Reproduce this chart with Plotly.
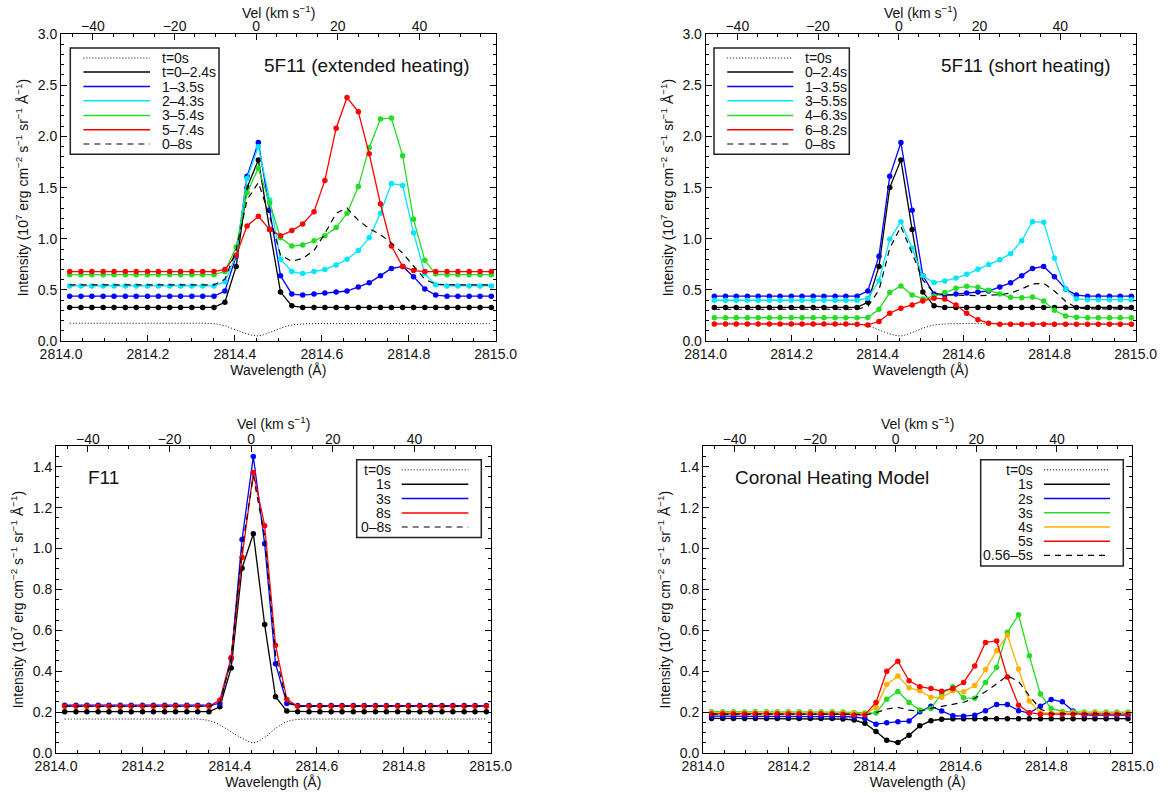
import plotly.graph_objects as go

FONT = "Liberation Sans, Arial, Helvetica, sans-serif"

# ---------------- data ----------------
WAVELENGTH = [2814.020, 2814.046, 2814.071, 2814.097, 2814.122, 2814.148, 2814.173, 2814.199,
              2814.224, 2814.250, 2814.275, 2814.301, 2814.326, 2814.352, 2814.377, 2814.403,
              2814.428, 2814.454, 2814.480, 2814.505, 2814.531, 2814.556, 2814.582, 2814.607,
              2814.633, 2814.658, 2814.684, 2814.709, 2814.735, 2814.760, 2814.786, 2814.811,
              2814.837, 2814.862, 2814.888, 2814.913, 2814.939, 2814.964, 2814.990]
REST_WAVELENGTH = 2814.449
C_KMS = 299792.458
WL_RANGE = [2814.0, 2815.0]

# 5F11 (both heating scenarios)
T0_5F11 = [0.175, 0.175, 0.175, 0.175, 0.175, 0.175, 0.175, 0.175, 0.175, 0.175, 0.175, 0.175, 0.175,
           0.170, 0.150, 0.110, 0.072, 0.052, 0.085, 0.127, 0.158, 0.168,
           0.172, 0.172, 0.172, 0.172, 0.172, 0.172, 0.172, 0.172, 0.172, 0.172, 0.172, 0.172, 0.172,
           0.172, 0.172, 0.172, 0.172]
F5_0_24 = [0.33, 0.33, 0.33, 0.33, 0.33, 0.33, 0.33, 0.33, 0.33, 0.33, 0.33, 0.33, 0.33, 0.33,
           0.38, 0.73, 1.50, 1.77, 1.09, 0.48, 0.345,
           0.33, 0.33, 0.33, 0.33, 0.33, 0.33, 0.33, 0.33, 0.33, 0.33, 0.33, 0.33, 0.33, 0.33, 0.33,
           0.33, 0.33, 0.33]
F5_1_35 = [0.44, 0.44, 0.44, 0.44, 0.44, 0.44, 0.44, 0.44, 0.44, 0.44, 0.44, 0.44, 0.44, 0.44,
           0.49, 0.83, 1.61, 1.94, 1.28, 0.64, 0.46, 0.45, 0.46, 0.47, 0.48, 0.49, 0.53, 0.57, 0.64,
           0.71, 0.73, 0.63, 0.51, 0.45,
           0.44, 0.44, 0.44, 0.44, 0.44]
EXT_2_43 = [0.54, 0.54, 0.54, 0.54, 0.54, 0.54, 0.54, 0.54, 0.54, 0.54, 0.54, 0.54, 0.54, 0.54,
            0.58, 0.84, 1.59, 1.90, 1.38, 0.80, 0.68, 0.66, 0.68, 0.70, 0.745, 0.80, 0.885, 1.01, 1.25,
            1.54, 1.52, 1.06, 0.66, 0.55,
            0.54, 0.54, 0.54, 0.54, 0.54]
EXT_3_54 = [0.65, 0.65, 0.65, 0.65, 0.65, 0.65, 0.65, 0.65, 0.65, 0.65, 0.65, 0.65, 0.65, 0.65,
            0.68, 0.92, 1.45, 1.69, 1.35, 1.01, 0.93, 0.94, 0.98, 1.03, 1.11, 1.25, 1.51, 1.89, 2.17,
            2.18, 1.81, 1.19, 0.79, 0.655,
            0.65, 0.65, 0.65, 0.65, 0.65]
EXT_5_74 = [0.68, 0.68, 0.68, 0.68, 0.68, 0.68, 0.68, 0.68, 0.68, 0.68, 0.68, 0.68, 0.68, 0.68,
            0.70, 0.84, 1.125, 1.22, 1.09, 1.03, 1.08, 1.145, 1.265, 1.57, 2.08, 2.38, 2.24, 1.83, 1.34,
            0.93, 0.73, 0.69, 0.68, 0.68,
            0.68, 0.68, 0.68, 0.68, 0.68]
EXT_0_8 = [0.55, 0.55, 0.55, 0.55, 0.55, 0.55, 0.55, 0.55, 0.55, 0.55, 0.55, 0.55, 0.55, 0.55,
           0.605, 0.89, 1.38, 1.55, 1.22, 0.84, 0.78, 0.81, 0.885, 1.05, 1.25, 1.30, 1.18, 1.10, 1.04,
           0.96, 0.86, 0.73, 0.605, 0.556,
           0.55, 0.55, 0.55, 0.55, 0.55]
SHORT_3_55 = [0.40, 0.40, 0.40, 0.40, 0.40, 0.40, 0.40, 0.40, 0.40, 0.40, 0.40, 0.40, 0.40, 0.40,
              0.42, 0.59, 0.995, 1.167, 0.907, 0.637, 0.572, 0.588, 0.617, 0.653, 0.702, 0.748, 0.796,
              0.855, 0.982, 1.167, 1.161, 0.813, 0.51, 0.413,
              0.405, 0.405, 0.405, 0.405, 0.405]
SHORT_4_63 = [0.228, 0.228, 0.228, 0.228, 0.228, 0.228, 0.228, 0.228, 0.228, 0.228, 0.228, 0.228,
              0.228, 0.228,
              0.231, 0.312, 0.475, 0.54, 0.452, 0.413, 0.44, 0.475, 0.516, 0.536, 0.526, 0.497, 0.461,
              0.429, 0.425, 0.432, 0.393, 0.302, 0.245, 0.234,
              0.228, 0.228, 0.228, 0.228, 0.228]
SHORT_6_82 = [0.169, 0.169, 0.169, 0.169, 0.169, 0.169, 0.169, 0.169, 0.169, 0.169, 0.169, 0.169, 0.169,
              0.165, 0.159, 0.192, 0.273, 0.322, 0.354, 0.393, 0.42, 0.413, 0.354, 0.273, 0.21, 0.176,
              0.166, 0.166, 0.166, 0.166, 0.166, 0.166, 0.166, 0.166, 0.166, 0.166, 0.166, 0.166, 0.166]
SHORT_0_8 = [0.312, 0.312, 0.312, 0.312, 0.312, 0.312, 0.312, 0.312, 0.312, 0.312, 0.312, 0.312,
             0.312, 0.312,
             0.338, 0.50, 0.907, 1.12, 0.86, 0.598, 0.47, 0.452, 0.449, 0.445, 0.445, 0.448, 0.455,
             0.47, 0.51, 0.56, 0.565, 0.49, 0.39, 0.325,
             0.315, 0.315, 0.315, 0.315, 0.315]

# F11
F11_T0 = [0.166, 0.166, 0.166, 0.166, 0.166, 0.166, 0.166, 0.166, 0.166, 0.166, 0.166, 0.166, 0.166,
          0.158, 0.137, 0.104, 0.072, 0.050, 0.076, 0.120, 0.153, 0.164,
          0.166, 0.166, 0.166, 0.166, 0.166, 0.166, 0.166, 0.166, 0.166, 0.166, 0.166, 0.166, 0.166,
          0.166, 0.166, 0.166, 0.166]
F11_1S = [0.202, 0.202, 0.202, 0.202, 0.202, 0.202, 0.202, 0.202, 0.202, 0.202, 0.202, 0.202, 0.202,
          0.202,
          0.226, 0.416, 0.904, 1.072, 0.628, 0.275, 0.205,
          0.202, 0.202, 0.202, 0.202, 0.202, 0.202, 0.202, 0.202, 0.202, 0.202, 0.202, 0.202, 0.202,
          0.202, 0.202, 0.202, 0.202, 0.202]
F11_3S = [0.234, 0.234, 0.234, 0.234, 0.234, 0.234, 0.234, 0.234, 0.234, 0.234, 0.234, 0.234, 0.234,
          0.234,
          0.242, 0.462, 1.044, 1.45, 1.023, 0.437, 0.242,
          0.232, 0.232, 0.232, 0.232, 0.232, 0.232, 0.232, 0.232, 0.232, 0.232, 0.232, 0.232, 0.232,
          0.232, 0.232, 0.232, 0.232, 0.232]
F11_8S = [0.228, 0.228, 0.228, 0.228, 0.228, 0.228, 0.228, 0.228, 0.228, 0.228, 0.228, 0.228, 0.228,
          0.228,
          0.259, 0.467, 0.958, 1.372, 1.112, 0.527, 0.262,
          0.228, 0.228, 0.228, 0.228, 0.228, 0.228, 0.228, 0.228, 0.228, 0.228, 0.228, 0.228, 0.228,
          0.228, 0.228, 0.228, 0.228, 0.228]
F11_0_8 = [0.228, 0.228, 0.228, 0.228, 0.228, 0.228, 0.228, 0.228, 0.228, 0.228, 0.228, 0.228, 0.228,
           0.228,
           0.245, 0.46, 1.00, 1.355, 1.06, 0.48, 0.25,
           0.228, 0.228, 0.228, 0.228, 0.228, 0.228, 0.228, 0.228, 0.228, 0.228, 0.228, 0.228, 0.228,
           0.228, 0.228, 0.228, 0.228, 0.228]

# Coronal heating model
CH_T0 = [0.169, 0.169, 0.169, 0.169, 0.169, 0.169, 0.169, 0.169, 0.169, 0.169, 0.169, 0.169, 0.169,
         0.163, 0.145, 0.105, 0.065, 0.052, 0.085, 0.130, 0.157, 0.165,
         0.168, 0.168, 0.168, 0.168, 0.168, 0.168, 0.168, 0.168, 0.168, 0.168, 0.168, 0.168, 0.168,
         0.168, 0.168, 0.168, 0.168]
CH_1S = [0.169, 0.169, 0.169, 0.169, 0.169, 0.169, 0.169, 0.169, 0.169, 0.169, 0.169, 0.169,
         0.166, 0.161, 0.145, 0.105, 0.062, 0.051, 0.087, 0.133, 0.158, 0.165,
         0.168, 0.168, 0.168, 0.168, 0.168, 0.168, 0.168, 0.168, 0.168, 0.168, 0.168, 0.168, 0.168,
         0.168, 0.168, 0.168, 0.168]
CH_2S = [0.18, 0.18, 0.18, 0.18, 0.18, 0.18, 0.18, 0.18, 0.18, 0.18, 0.18, 0.18,
         0.178, 0.176, 0.169, 0.141, 0.148, 0.153, 0.156, 0.202, 0.229, 0.205, 0.182, 0.18, 0.185,
         0.207, 0.237, 0.237, 0.207, 0.195, 0.228, 0.262, 0.25, 0.205,
         0.185, 0.185, 0.185, 0.185, 0.185]
CH_3S = [0.202, 0.202, 0.202, 0.202, 0.202, 0.202, 0.202, 0.202, 0.202, 0.202, 0.202, 0.202,
         0.2, 0.198, 0.195, 0.195, 0.263, 0.301, 0.247, 0.21, 0.218, 0.291, 0.324, 0.27, 0.268,
         0.345, 0.418, 0.59, 0.676, 0.475, 0.288, 0.218, 0.203,
         0.2, 0.2, 0.2, 0.2, 0.2, 0.2]
CH_4S = [0.197, 0.197, 0.197, 0.197, 0.197, 0.197, 0.197, 0.197, 0.197, 0.197, 0.197, 0.197,
         0.196, 0.194, 0.19, 0.223, 0.335, 0.376, 0.319, 0.304, 0.272, 0.272, 0.304, 0.30, 0.33,
         0.408, 0.50, 0.576, 0.411, 0.254, 0.197,
         0.195, 0.195, 0.195, 0.195, 0.195, 0.195, 0.195, 0.195]
CH_5S = [0.192, 0.192, 0.192, 0.192, 0.192, 0.192, 0.192, 0.192, 0.192, 0.192, 0.192, 0.192,
         0.189, 0.186, 0.186, 0.247, 0.40, 0.449, 0.353, 0.324, 0.315, 0.302, 0.315, 0.345, 0.426,
         0.541, 0.548, 0.372, 0.234, 0.197,
         0.19, 0.19, 0.19, 0.19, 0.19, 0.19, 0.19, 0.19, 0.19]
CH_056_5 = [0.19, 0.19, 0.19, 0.19, 0.19, 0.19, 0.19, 0.19, 0.19, 0.19, 0.19, 0.19, 0.19, 0.19,
            0.186, 0.197, 0.215, 0.223, 0.21, 0.205, 0.218, 0.228, 0.237, 0.248, 0.268, 0.30, 0.338,
            0.378, 0.35, 0.28, 0.215,
            0.192, 0.192, 0.192, 0.192, 0.192, 0.192, 0.192, 0.192]

# ---------------- styling ----------------
BLACK = "#000000"
BLUE = "#0000ff"
CYAN = "#00e6ff"
GREEN = "#22dd22"
RED = "#ff0000"
ORANGE = "#ffb000"
DOT = "1px,2px"
DASH = "6px,5px"

FIG_W = 1169
FIG_H = 793


def px_x(a, b):
    return [a / FIG_W, b / FIG_W]


def px_y(bottom, top):
    return [1 - bottom / FIG_H, 1 - top / FIG_H]


def px_y1(v):
    return 1 - v / FIG_H


PANELS = [
    dict(
        title="5F11 (extended heating)", ymax=3.0, ydtick=0.5, yminor=0.1,
        xdom=px_x(61, 495.7), ydom=px_y(341.2, 34.0), vel_title_y=11.7,
        series=[("t=0s", T0_5F11, BLACK, "dot"), ("t=0–2.4s", F5_0_24, BLACK, "m"),
                ("1–3.5s", F5_1_35, BLUE, "m"), ("2–4.3s", EXT_2_43, CYAN, "m"),
                ("3–5.4s", EXT_3_54, GREEN, "m"), ("5–7.4s", EXT_5_74, RED, "m"),
                ("0–8s", EXT_0_8, BLACK, "dash")],
        title_pos=(0.4617, 0.8976),
        leg=dict(box=(0.0214, 0.3635, 0.6087, 0.9544), line=(0.0515, 0.2048), text_x=0.2277,
                 text_anchor="left", ys=[0.9217, 0.876, 0.829, 0.783, 0.735, 0.688, 0.642]),
    ),
    dict(
        title="5F11 (short heating)", ymax=3.0, ydtick=0.5, yminor=0.1,
        xdom=px_x(705.7, 1135.7), ydom=px_y(341.2, 34.0), vel_title_y=11.7,
        series=[("t=0s", T0_5F11, BLACK, "dot"), ("0–2.4s", F5_0_24, BLACK, "m"),
                ("1–3.5s", F5_1_35, BLUE, "m"), ("3–5.5s", SHORT_3_55, CYAN, "m"),
                ("4–6.3s", SHORT_4_63, GREEN, "m"), ("6–8.2s", SHORT_6_82, RED, "m"),
                ("0–8s", SHORT_0_8, BLACK, "dash")],
        title_pos=(0.5426, 0.8976),
        leg=dict(box=(0.0193, 0.334, 0.6087, 0.9544), line=(0.050, 0.2037), text_x=0.2256,
                 text_anchor="left", ys=[0.9217, 0.876, 0.829, 0.783, 0.735, 0.688, 0.642]),
    ),
    dict(
        title="F11", ymax=1.5, ydtick=0.2, yminor=0.05,
        xdom=px_x(56, 490.7), ydom=px_y(753.0, 446.3), vel_title_y=423.5,
        series=[("t=0s", F11_T0, BLACK, "dot"), ("1s", F11_1S, BLACK, "m"),
                ("3s", F11_3S, BLUE, "m"), ("8s", F11_8S, RED, "m"),
                ("0–8s", F11_0_8, BLACK, "dash")],
        title_pos=(0.069, 0.8987),
        leg=dict(box=(0.6917, 0.9784, 0.7026, 0.9565), line=(0.7953, 0.9486), text_x=0.7745,
                 text_anchor="right", ys=[0.9232, 0.8765, 0.8294, 0.7827, 0.7369]),
    ),
    dict(
        title="Coronal Heating Model", ymax=1.5, ydtick=0.2, yminor=0.05,
        xdom=px_x(703, 1132.3), ydom=px_y(753.0, 446.3), vel_title_y=423.5,
        series=[("t=0s", CH_T0, BLACK, "dot"), ("1s", CH_1S, BLACK, "m"),
                ("2s", CH_2S, BLUE, "m"), ("3s", CH_3S, GREEN, "m"),
                ("4s", CH_4S, ORANGE, "m"), ("5s", CH_5S, RED, "m"),
                ("0.56–5s", CH_056_5, BLACK, "dash")],
        title_pos=(0.0692, 0.8987),
        leg=dict(box=(0.6468, 0.979, 0.6101, 0.9565), line=(0.7943, 0.9481), text_x=0.7733,
                 text_anchor="right", ys=[0.9232, 0.8765, 0.8294, 0.7837, 0.7369, 0.6901, 0.6444]),
    ),
]

for p in PANELS:
    for _, vals, _, _ in p["series"]:
        assert len(vals) == len(WAVELENGTH), len(vals)


def to_vel(wl):
    return (wl - REST_WAVELENGTH) / REST_WAVELENGTH * C_KMS


VEL_RANGE = [to_vel(WL_RANGE[0]), to_vel(WL_RANGE[1])]

fig = go.Figure()
shapes, annotations = [], []
tickfont = dict(family=FONT, size=14, color="#111111")
titlefont = dict(family=FONT, size=14, color="#111111")
layout = {}

for i, p in enumerate(PANELS, start=1):
    xa = "x" if i == 1 else f"x{i}"
    ya = "y" if i == 1 else f"y{i}"
    xv = f"x{i + 4}"
    for name, vals, color, style in p["series"]:
        if style == "m":
            fig.add_trace(go.Scatter(x=WAVELENGTH, y=vals, xaxis=xa, yaxis=ya, name=name,
                                     mode="lines+markers", line=dict(color=color, width=1.3),
                                     marker=dict(color=color, size=5.5), showlegend=False))
        elif style == "dash":
            fig.add_trace(go.Scatter(x=WAVELENGTH, y=vals, xaxis=xa, yaxis=ya, name=name,
                                     mode="lines", line=dict(color=color, width=1.2, dash=DASH),
                                     showlegend=False))
        else:
            fig.add_trace(go.Scatter(x=WAVELENGTH, y=vals, xaxis=xa, yaxis=ya, name=name,
                                     mode="lines", line=dict(color=color, width=1, dash=DOT,
                                                             shape="spline"),
                                     showlegend=False))
    # carrier for the velocity axis on top
    fig.add_trace(go.Scatter(x=VEL_RANGE, y=[None, None], xaxis=xv, yaxis=ya, mode="lines",
                             showlegend=False, hoverinfo="skip"))

    common = dict(ticks="inside", ticklen=6, tickwidth=1, tickcolor="black", showline=True,
                  linecolor="black", linewidth=1, showgrid=False, zeroline=False,
                  tickfont=tickfont, automargin=False)
    layout["xaxis" if i == 1 else f"xaxis{i}"] = dict(
        common, domain=p["xdom"], range=WL_RANGE, anchor=ya, side="bottom", mirror=False,
        tick0=2814.0, dtick=0.2, tickformat=".1f",
        minor=dict(ticks="inside", ticklen=3, tickcolor="black", dtick=0.05, tick0=2814.0,
                   showgrid=False),
        title=dict(text="Wavelength (Å)", standoff=1, font=titlefont),
    )
    layout[f"xaxis{i + 4}"] = dict(
        common, domain=p["xdom"], range=VEL_RANGE, anchor=ya, overlaying=xa, side="top",
        tick0=0, dtick=20, ticklabelstandoff=-4,
        minor=dict(ticks="inside", ticklen=3, tickcolor="black", dtick=5, tick0=0, showgrid=False),
    )
    layout["yaxis" if i == 1 else f"yaxis{i}"] = dict(
        common, domain=p["ydom"], range=[-0.0001, p["ymax"] + 0.0001], anchor=xa, mirror="ticks",
        tick0=0, dtick=p["ydtick"], tickformat=".1f",
        minor=dict(ticks="inside", ticklen=3, tickcolor="black", dtick=p["yminor"], tick0=0,
                   showgrid=False),
        title=dict(text="Intensity (10<sup>7</sup> erg cm<sup>−2</sup> s<sup>−1</sup> sr<sup>−1</sup> Å<sup>−1</sup>)",
                   standoff=5, font=titlefont),
    )

    xref = f"{xa} domain"
    yref = f"{ya} domain"
    # title of the velocity (top) axis
    annotations.append(dict(text="Vel (km s<sup>−1</sup>)", x=0.5, y=px_y1(p["vel_title_y"]),
                            xref=xref, yref="paper", xanchor="center", yanchor="middle",
                            showarrow=False, font=titlefont))
    annotations.append(dict(text=p["title"], x=p["title_pos"][0], y=p["title_pos"][1], xref=xref,
                            yref=yref, xanchor="left", yanchor="middle", showarrow=False,
                            font=dict(family=FONT, size=19, color="#111")))
    lg = p["leg"]
    bx0, bx1, by0, by1 = lg["box"]
    shapes.append(dict(type="rect", xref=xref, yref=yref, x0=bx0, x1=bx1, y0=by0, y1=by1,
                       line=dict(color="#222222", width=1.5), fillcolor="rgba(0,0,0,0)"))
    for (name, _, color, style), yy in zip(p["series"], lg["ys"]):
        if style == "dot":
            ld = dict(color=color, width=1, dash=DOT)
        elif style == "dash":
            ld = dict(color=color, width=1.2, dash=DASH)
        else:
            ld = dict(color=color, width=1.5)
        shapes.append(dict(type="line", xref=xref, yref=yref, x0=lg["line"][0], x1=lg["line"][1],
                           y0=yy, y1=yy, line=ld))
        annotations.append(dict(text=name, x=lg["text_x"], y=yy, xref=xref, yref=yref,
                                xanchor=lg["text_anchor"], yanchor="middle", showarrow=False,
                                font=dict(family=FONT, size=14, color="#111")))

fig.update_layout(**layout)
fig.update_layout(
    width=FIG_W, height=FIG_H, autosize=False,
    margin=dict(l=0, r=0, t=0, b=0),
    paper_bgcolor="white", plot_bgcolor="white",
    font=dict(family=FONT, size=14, color="#111"),
    shapes=shapes, annotations=annotations, showlegend=False,
)

# let the figure fill the window exactly (no default 8px page margin), no toolbar
fig.write_html("out.html",
               config={"displayModeBar": False},
               post_script="document.body.style.margin='0px';document.body.style.overflow='hidden';")
